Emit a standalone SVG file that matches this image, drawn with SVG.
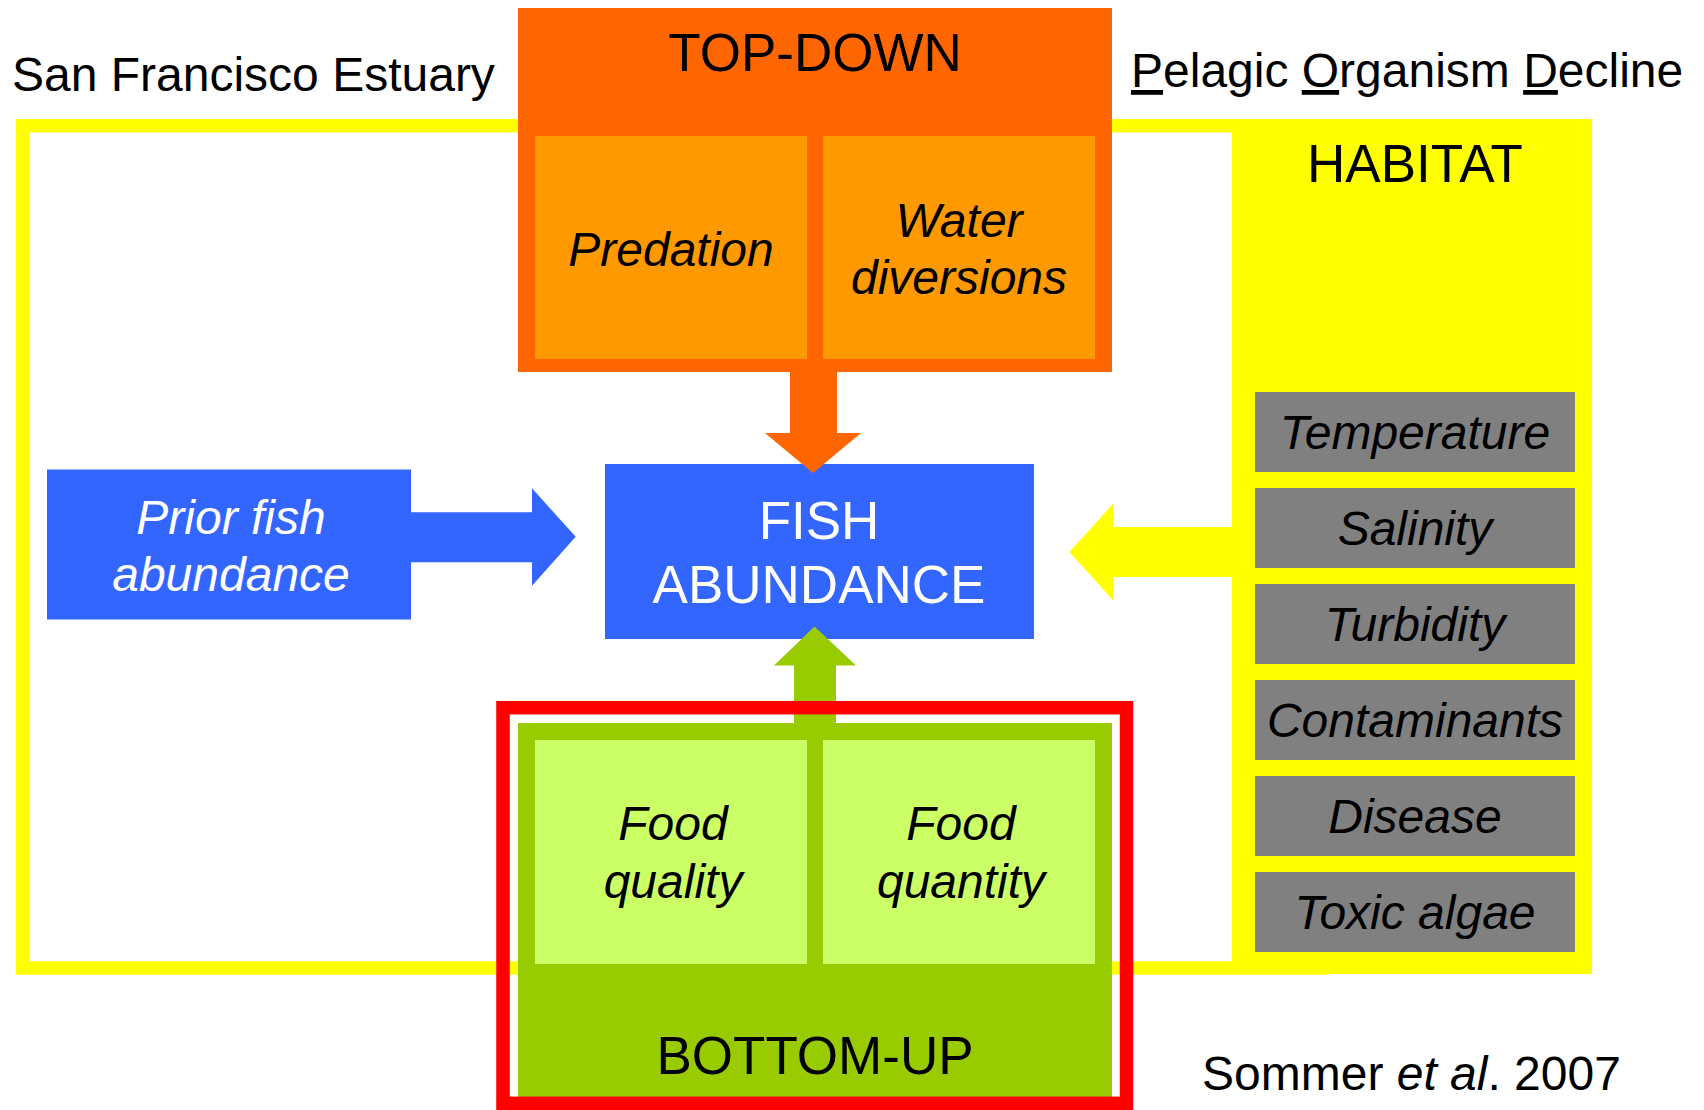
<svg xmlns="http://www.w3.org/2000/svg" width="1704" height="1110" viewBox="0 0 1704 1110">
<style>
  text { font-family: "Liberation Sans", Arial, sans-serif; }
  .big { font-size: 53px; text-anchor: middle; }
  .it { font-size: 48px; font-style: italic; text-anchor: middle; }
  .title { font-size: 48px; }
  .gray { fill: #808080; }
</style>
<rect width="1704" height="1110" fill="#FFFFFF"/>

<!-- Estuary frame -->
<g id="estuary-frame">
  <rect x="22.7" y="125.7" width="1300" height="842.3" fill="none" stroke="#FFFF00" stroke-width="13.4"/>
</g>
<text class="title" x="12" y="91">San Francisco Estuary</text>
<text class="title" x="1131" y="87"><tspan text-decoration="underline">P</tspan>elagic <tspan text-decoration="underline">O</tspan>rganism <tspan text-decoration="underline">D</tspan>ecline</text>

<!-- Habitat -->
<g id="habitat">
  <rect x="1232" y="119" width="360" height="855" fill="#FFFF00"/>
  <text class="big" x="1415" y="182">HABITAT</text>
  <g id="temperature"><rect class="gray" x="1255" y="392" width="320" height="80"/><text class="it" x="1415" y="449">Temperature</text></g>
  <g id="salinity"><rect class="gray" x="1255" y="488" width="320" height="80"/><text class="it" x="1415" y="545">Salinity</text></g>
  <g id="turbidity"><rect class="gray" x="1255" y="584" width="320" height="80"/><text class="it" x="1415" y="641">Turbidity</text></g>
  <g id="contaminants"><rect class="gray" x="1255" y="680" width="320" height="80"/><text class="it" x="1415" y="737">Contaminants</text></g>
  <g id="disease"><rect class="gray" x="1255" y="776" width="320" height="80"/><text class="it" x="1415" y="833">Disease</text></g>
  <g id="toxic-algae"><rect class="gray" x="1255" y="872" width="320" height="80"/><text class="it" x="1415" y="929">Toxic algae</text></g>
</g>

<!-- Top-down -->
<g id="top-down">
  <rect x="518" y="8" width="594" height="364" fill="#FF6600"/>
  <text class="big" x="815" y="71">TOP-DOWN</text>
  <g id="predation"><rect x="535" y="136" width="272" height="223" fill="#FF9900"/><text class="it" x="671" y="266">Predation</text></g>
  <g id="water-diversions"><rect x="823" y="136" width="272" height="223" fill="#FF9900"/><text class="it" x="959"><tspan x="959" y="237">Water</tspan><tspan x="959" y="294">diversions</tspan></text></g>
</g>

<!-- Bottom-up -->
<g id="bottom-up">
  <rect x="518" y="723" width="594" height="375" fill="#99CC00"/>
  <g id="food-quality"><rect x="535" y="740" width="272" height="224" fill="#CCFF66"/><text class="it" x="673"><tspan x="673" y="840">Food</tspan><tspan x="673" y="898">quality</tspan></text></g>
  <g id="food-quantity"><rect x="823" y="740" width="272" height="224" fill="#CCFF66"/><text class="it" x="961"><tspan x="961" y="840">Food</tspan><tspan x="961" y="898">quantity</tspan></text></g>
  <text class="big" x="815" y="1074">BOTTOM-UP</text>
</g>

<!-- Prior fish abundance -->
<g id="prior-fish">
  <rect x="47" y="469.5" width="364" height="150" fill="#3366FF"/>
  <text class="it" x="231" fill="#FFFFFF"><tspan x="231" y="534">Prior fish</tspan><tspan x="231" y="591">abundance</tspan></text>
</g>

<!-- Fish abundance -->
<g id="fish-abundance">
  <rect x="605" y="464" width="429" height="175" fill="#3366FF"/>
  <text class="big" x="819" fill="#FFFFFF"><tspan x="819" y="539">FISH</tspan><tspan x="819" y="603">ABUNDANCE</tspan></text>
</g>

<!-- Connectors -->
<g id="connectors">
  <polygon id="arrow-topdown" points="790,371 837,371 837,433 861,433 813,473 765,433 790,433" fill="#FF6600"/>
  <polygon id="arrow-bottomup" points="794,723 836,723 836,665.5 856,665.5 814.5,626.5 774,665.5 794,665.5" fill="#99CC00"/>
  <polygon id="arrow-prior" points="410,512.3 532,512.3 532,488.3 575.7,536.8 532,585.7 532,562.3 410,562.3" fill="#3366FF"/>
  <polygon id="arrow-habitat" points="1233,527 1113.5,527 1113.5,503.3 1069.5,552 1113.5,600.7 1113.5,577 1233,577" fill="#FFFF00"/>
</g>

<!-- Red highlight frame -->
<g id="highlight">
  <rect x="503" y="707.7" width="623.5" height="395.6" fill="none" stroke="#FF0000" stroke-width="13.5"/>
</g>

<text class="title" x="1202" y="1090">Sommer <tspan font-style="italic">et al</tspan>. 2007</text>
</svg>
